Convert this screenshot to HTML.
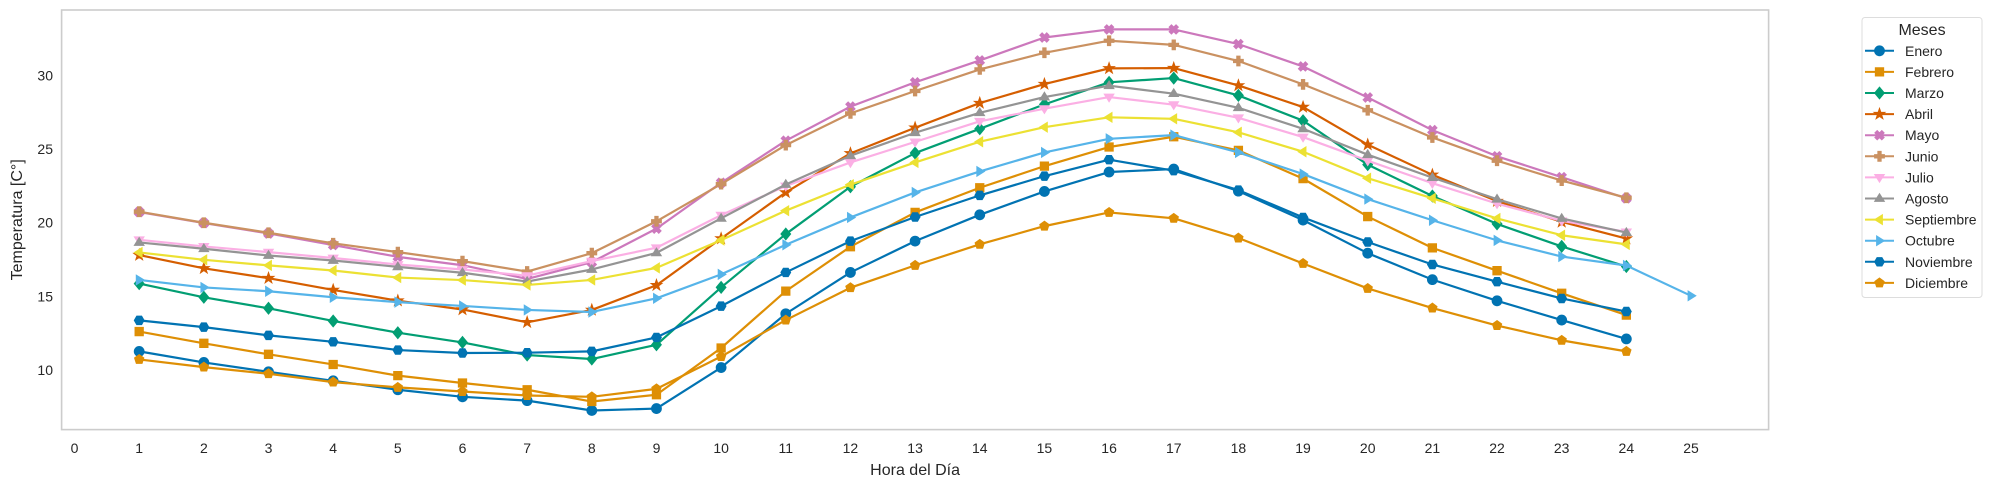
<!DOCTYPE html>
<html><head><meta charset="utf-8"><style>
html,body{margin:0;padding:0;background:#fff;width:1991px;height:484px;overflow:hidden}
svg{display:block;font-family:"Liberation Sans",sans-serif}
</style></head><body>
<svg id="chart" width="1991" height="484" viewBox="0 0 1991 484"></svg>
<script>
const hours=[1,2,3,4,5,6,7,8,9,10,11,12,13,14,15,16,17,18,19,20,21,22,23,24];
const monthNames=["Enero","Febrero","Marzo","Abril","Mayo","Junio","Julio","Agosto","Septiembre","Octubre","Noviembre","Diciembre"];
const enero=[11.25,10.5,9.86,9.25,8.64,8.16,7.9,7.23,7.36,10.15,13.81,16.62,18.75,20.54,22.13,23.45,23.65,22.15,20.18,17.93,16.13,14.69,13.38,12.1];
const febrero=[12.6,11.8,11.05,10.36,9.6,9.1,8.64,7.84,8.3,11.48,15.35,18.37,20.7,22.38,23.85,25.15,25.85,24.92,23.0,20.42,18.29,16.74,15.2,13.72];
const marzo=[15.86,14.93,14.18,13.32,12.52,11.86,11.0,10.73,11.7,15.6,19.23,22.45,24.74,26.39,28.05,29.55,29.84,28.66,26.94,23.95,21.82,19.92,18.39,17.02];
const abril=[17.8,16.9,16.23,15.43,14.7,14.1,13.23,14.07,15.75,18.93,22.06,24.72,26.46,28.14,29.43,30.5,30.52,29.34,27.87,25.31,23.26,21.47,20.06,18.92];
const mayo=[20.73,19.98,19.27,18.48,17.68,17.11,16.18,17.32,19.6,22.72,25.58,27.9,29.55,31.04,32.6,33.15,33.15,32.15,30.63,28.52,26.3,24.52,23.1,21.66];
const junio=[20.75,20.0,19.32,18.6,18.0,17.39,16.68,17.93,20.1,22.63,25.28,27.44,28.96,30.43,31.56,32.38,32.1,31.0,29.41,27.65,25.8,24.22,22.87,21.7];
const julio=[18.84,18.39,18.0,17.6,17.16,16.82,16.4,17.39,18.3,20.52,22.5,24.1,25.5,26.9,27.76,28.55,28.03,27.14,25.83,24.22,22.69,21.3,20.13,19.38];
const agosto=[18.66,18.23,17.77,17.43,17.0,16.6,16.0,16.82,17.95,20.3,22.6,24.56,26.12,27.48,28.55,29.32,28.78,27.82,26.39,24.63,23.07,21.6,20.29,19.33];
const septiembre=[17.98,17.48,17.1,16.75,16.27,16.1,15.77,16.11,16.93,18.82,20.82,22.59,24.1,25.51,26.5,27.17,27.07,26.15,24.83,23.03,21.66,20.29,19.15,18.53];
const octubre=[16.11,15.6,15.34,14.93,14.6,14.34,14.07,13.93,14.86,16.49,18.5,20.36,22.06,23.49,24.78,25.71,25.96,24.78,23.31,21.61,20.17,18.8,17.7,17.09,15.03];
const noviembre=[13.36,12.9,12.34,11.9,11.34,11.14,11.16,11.25,12.2,14.33,16.62,18.75,20.39,21.86,23.17,24.29,23.54,22.22,20.36,18.69,17.16,15.99,14.85,13.96];
const diciembre=[10.7,10.18,9.73,9.16,8.8,8.52,8.25,8.16,8.7,10.9,13.38,15.58,17.1,18.53,19.77,20.7,20.3,18.96,17.23,15.53,14.2,13.01,12.0,11.25];
const xTicks=[0,1,2,3,4,5,6,7,8,9,10,11,12,13,14,15,16,17,18,19,20,21,22,23,24,25];
const yTicks=[10,15,20,25,30];

const series=[enero,febrero,marzo,abril,mayo,junio,julio,agosto,septiembre,octubre,noviembre,diciembre];
const colors=["#0173b2","#de8f05","#029e73","#d55e00","#cc78bc","#ca9161","#fbafe4","#949494","#ece133","#56b4e9","#0173b2","#de8f05"];
const markers=["o","s","D","*","X","P","v","^","<",">","H","p"];
const L=61.6,R=1768.6,T=10,B=429.6;
const X0=-0.2,X1=26.2,Y0=5.93,Y1=34.47;
function sx(h){return L+(h-X0)/(X1-X0)*(R-L);}
function sy(v){return B-(v-Y0)/(Y1-Y0)*(B-T);}
const NS="http://www.w3.org/2000/svg";
const svg=document.getElementById('chart');
function mk(tag,attrs,parent){const e=document.createElementNS(NS,tag);for(const k in attrs)e.setAttribute(k,attrs[k]);(parent||svg).appendChild(e);return e;}
function poly(n,r,rot){const p=[];for(let i=0;i<n;i++){const a=rot+i*2*Math.PI/n;p.push([r*Math.cos(a),r*Math.sin(a)]);}return p;}
function star(r){const p=[];for(let i=0;i<10;i++){const a=-Math.PI/2+i*Math.PI/5;const rr=i%2?r*0.4:r;p.push([rr*Math.cos(a),rr*Math.sin(a)]);}return p;}
function markerPts(m,r){
  switch(m){
    case "s":return [[-r*0.85,-r*0.85],[r*0.85,-r*0.85],[r*0.85,r*0.85],[-r*0.85,r*0.85]];
    case "D":return [[0,-r*1.2],[r*1.0,0],[0,r*1.2],[-r*1.0,0]];
    case "*":return star(r*1.2);
    case "v":return [[-r,-r*0.6],[r,-r*0.6],[0,r]];
    case "^":return [[-r,r*0.6],[r,r*0.6],[0,-r]];
    case "<":return [[r*0.6,-r],[r*0.6,r],[-r,0]];
    case ">":return [[-r*0.6,-r],[-r*0.6,r],[r,0]];
    case "H":return poly(6,r,0);
    case "p":return poly(5,r,-Math.PI/2);
    case "P":{const a=r*0.35,b=r;return [[-a,-b],[a,-b],[a,-a],[b,-a],[b,a],[a,a],[a,b],[-a,b],[-a,a],[-b,a],[-b,-a],[-a,-a]];}
    case "X":{const a=r*0.35,b=r;const pts=[[-a,-b],[a,-b],[a,-a],[b,-a],[b,a],[a,a],[a,b],[-a,b],[-a,a],[-b,a],[-b,-a],[-a,-a]];const c=Math.SQRT1_2;return pts.map(([x,y])=>[(x-y)*c,(x+y)*c]);}
  }
  return null;
}
function drawMarker(m,cx,cy,color,parent){
  const r=5;
  let el;
  if(m==="o"){el=mk('circle',{cx:cx,cy:cy,r:r,fill:color,stroke:color,'stroke-width':0.8},parent);}
  else{const pts=markerPts(m,r).map(p=>(cx+p[0]).toFixed(2)+','+(cy+p[1]).toFixed(2)).join(' ');
    el=mk('polygon',{points:pts,fill:color,stroke:color,'stroke-width':0.8,'stroke-linejoin':'miter'},parent);}
  return el;
}
const frame=mk('rect',{x:L,y:T,width:R-L,height:B-T,fill:'#fff',stroke:'#cccccc','stroke-width':1.6});


xTicks.forEach(t=>{const e=mk('text',{x:sx(t),y:453,'text-anchor':'middle','font-size':14,fill:'#262626'});e.textContent=t;

});
yTicks.forEach(t=>{const e=mk('text',{x:53,y:sy(t)+5,'text-anchor':'end','font-size':14,fill:'#262626'});e.textContent=t;

});
const xl=mk('text',{x:(L+R)/2,y:475,'text-anchor':'middle','font-size':16,fill:'#262626'});xl.textContent="Hora del Día";


const yl=mk('text',{x:0,y:0,'text-anchor':'middle','font-size':16,fill:'#262626',transform:'translate(22,'+((T+B)/2)+') rotate(-90)'});yl.textContent="Temperatura [C°]";


series.forEach((vals,i)=>{
  const g=mk('g',{});
  
  
  const pts=vals.map((v,j)=>sx(hours[j]!==undefined?hours[j]:j+1).toFixed(2)+','+sy(v).toFixed(2)).join(' ');
  const pl=mk('polyline',{points:pts,fill:'none',stroke:colors[i],'stroke-width':2.2,'stroke-linejoin':'round'},g);
  
  
  vals.forEach((v,j)=>{const h=hours[j]!==undefined?hours[j]:j+1;const m=drawMarker(markers[i],sx(h),sy(v),colors[i],g);
    
    });
});
const lg=mk('g',{});


mk('rect',{x:1862,y:17.5,width:120,height:280,rx:3,fill:'#fff',stroke:'#dddddd','stroke-width':1},lg);
const lt=mk('text',{x:1922,y:35,'text-anchor':'middle','font-size':16,fill:'#262626'},lg);lt.textContent="Meses";


monthNames.forEach((n,i)=>{
  const y=50.8+i*21.1;
  const eg=mk('g',{},lg);
  
  
  mk('line',{x1:1865,x2:1894,y1:y,y2:y,stroke:colors[i],'stroke-width':2},eg);
  drawMarker(markers[i],1879.5,y,colors[i],eg);
  const t=mk('text',{x:1905,y:y+5,'font-size':14,fill:'#262626'},eg);t.textContent=n;
});
</script>
</body></html>
